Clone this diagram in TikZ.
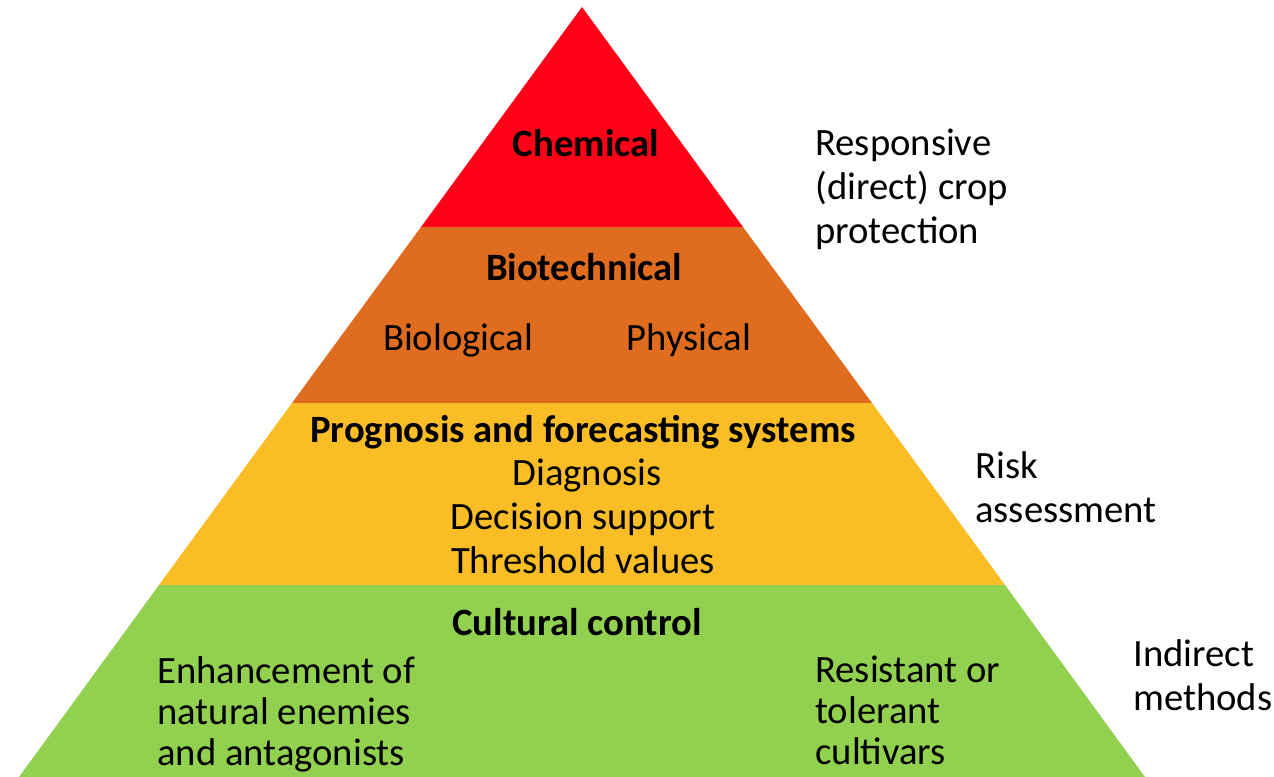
\documentclass[tikz,border=0pt]{standalone}
\usepackage{fontspec}
\usepackage{tikz}
\usetikzlibrary{positioning}
\setmainfont{Carlito}
\definecolor{chemred}{HTML}{FF0019}
\definecolor{biotorange}{HTML}{E06C1F}
\definecolor{riskyellow}{HTML}{FBBD26}
\definecolor{cultgreen}{HTML}{92D050}

\begin{document}
\begin{tikzpicture}[
  x=0.02cm, y=-0.02cm,
  layer/.style={draw=none},
  title/.style={
    inner sep=0pt,
    font=\fontsize{22}{25}\selectfont\bfseries
  },
  item/.style={
    inner sep=0pt,
    font=\fontsize{22}{25}\selectfont
  },
  side/.style={
    inner sep=0pt,
    anchor=west,
    align=left,
    font=\fontsize{22}{25}\selectfont
  },
  block/.style={
    inner sep=0pt,
    anchor=west,
    align=left,
    font=\fontsize{22}{23.3}\selectfont
  }
]
  \useasboundingbox (0,0) rectangle (1274,777);

  % pyramid layers
  \coordinate (apex) at (582,7);
  \fill[layer, chemred] (apex) -- (743,227) -- (421,227) -- cycle;
  \fill[layer, biotorange] (421,227) -- (743,227) -- (872,403) -- (292,403) -- cycle;
  \fill[layer, riskyellow] (292,403) -- (872,403) -- (1005,585) -- (159,585) -- cycle;
  \fill[layer, cultgreen] (159,585) -- (1005,585) -- (1145,777) -- (19,777) -- cycle;

  % texts inside the layers
  \node[title] (chemical) at (586,143) {Chemical};
  \node[title] (biotech) at (584,267) {Biotechnical};
  \node[item] (biological) at (458,340) {Biological};
  \node[item] (physical) at (689,340) {Physical};
  \node[title] (prognosis) at (583,432) {Prognosis and forecasting systems};
  \node[item] (diagnosis) at (587,476) {Diagnosis};
  \node[item] (decision) at (583,519) {Decision support};
  \node[item] (threshold) at (583,560) {Threshold values};
  \node[title] (cultural) at (577,622) {Cultural control};
  \node[block] (enemies) at (157,714) {Enhancement of\\natural enemies\\and antagonists};
  \node[block] (cultivars) at (815,710) {Resistant or\\tolerant\\cultivars};

  % labels beside the pyramid
  \node[side] (responsive) at (815,189) {Responsive\\(direct) crop\\protection};
  \node[side] (risk) at (975,487) {Risk\\assessment};
  \node[side] (indirect) at (1133,675) {Indirect\\methods};
\end{tikzpicture}
\end{document}
